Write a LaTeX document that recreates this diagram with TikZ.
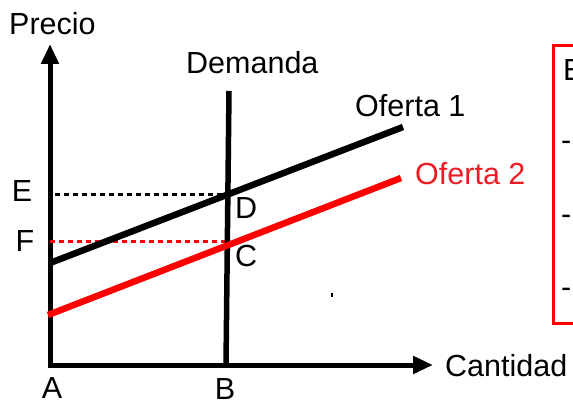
\documentclass[tikz,border=0pt]{standalone}
\usepackage{fontspec}
\setmainfont{Liberation Sans}
\usetikzlibrary{arrows.meta}
\definecolor{ofred}{RGB}{255,0,0}
\definecolor{txtred}{RGB}{237,28,36}
\tikzset{
  lbl/.style={inner sep=0pt, font=\fontsize{30.5}{32}\selectfont},
  axisline/.style={line width=5pt, -{Triangle[length=20pt,width=17pt]}},
  curve/.style={line width=6.5pt},
  guide/.style={line width=3pt, dash pattern=on 5pt off 4pt},
}
\begin{document}
\begin{tikzpicture}[x=1pt,y=-1pt]
\useasboundingbox (0,0) rectangle (573,403);
% coordinates
\coordinate (O) at (50,365);
\coordinate (Ytop) at (50,44);
\coordinate (Xend) at (433,365);
\coordinate (Dtop) at (229,91);
\coordinate (Dbot) at (226,365);
\coordinate (S1a) at (50,263);
\coordinate (S1b) at (403,127);
\coordinate (S2a) at (48,315);
\coordinate (S2b) at (401,178);
\coordinate (Ep) at (55,195);
\coordinate (Dp) at (224,195);
\coordinate (Fp) at (50,242);
\coordinate (Cp) at (226,242);
% axes
\draw[axisline] (O) -- (Ytop);
\draw[axisline] ([xshift=-2.5pt]O) -- (Xend);
% guides
\draw[guide, black] (Ep) -- (Dp);
\draw[guide, ofred] (Fp) -- (Cp);
% curves
\draw[line width=5.5pt] (Dtop) -- (Dbot);
\draw[curve, black] (S1a) -- (S1b);
\draw[curve, ofred] (S2a) -- (S2b);
% tiny mark
\fill (331,293) rectangle (333,297);
% labels
\node[lbl, anchor=base west] (precio) at (9,35) {Precio};
\node[lbl, anchor=base west] (demanda) at (186,74) {Demanda};
\node[lbl, anchor=base west] (of1) at (355,117) {Oferta 1};
\node[lbl, anchor=base west, text=txtred] (of2) at (415,185) {Oferta 2};
\node[lbl, anchor=base west] (cant) at (445,377) {Cantidad};
\node[lbl, anchor=base] (lE) at (22,202) {E};
\node[lbl, anchor=base] (lF) at (25,252) {F};
\node[lbl, anchor=base west] (lD) at (235,219) {D};
\node[lbl, anchor=base west] (lC) at (235,267) {C};
\node[lbl, anchor=base] (lA) at (52,398) {A};
\node[lbl, anchor=base] (lB) at (225,399) {B};
% side box (cut off)
\draw[ofred, line width=3pt] (600,46) -- (553.5,46) -- (553.5,324) -- (600,324);
\node[lbl, anchor=base west] (bE) at (563,81) {E};
\node[lbl, anchor=base west] (b1) at (561,151) {-};
\node[lbl, anchor=base west] (b2) at (561,225) {-};
\node[lbl, anchor=base west] (b3) at (561,298) {-};
\end{tikzpicture}
\end{document}
